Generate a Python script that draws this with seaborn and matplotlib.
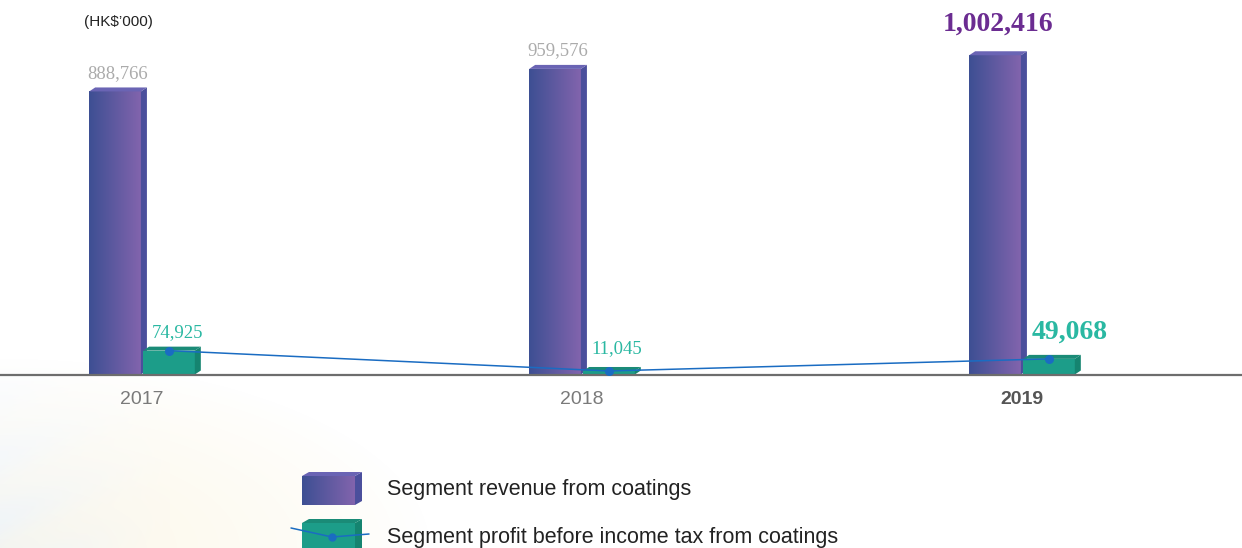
import numpy as np
import pandas as pd
import matplotlib
matplotlib.use("Agg")
import matplotlib.pyplot as plt
import seaborn as sns
from matplotlib.patches import Polygon
from matplotlib.colors import LinearSegmentedColormap, to_rgb

# ---- data ----
years = ["2017", "2018", "2019"]
revenue = [888766, 959576, 1002416]
profit = [74925, 11045, 49068]
revenue_labels = ["888,766", "959,576", "1,002,416"]
profit_labels = ["74,925", "11,045", "49,068"]
series_names = ["Segment revenue from coatings",
                "Segment profit before income tax from coatings"]
unit_label = "(HK$\u2019000)"

# ---- style ----
sns.set_theme(style="white")
plt.rcParams["font.family"] = ["Liberation Sans", "DejaVu Sans"]
SERIF = ["Liberation Serif", "DejaVu Serif"]

PURPLE_L, PURPLE_R = "#3d4f93", "#8264ad"
PURPLE_SIDE, PURPLE_TOP = "#4b4f9c", "#6a64b4"
TEAL, TEAL_SIDE, TEAL_TOP = "#1c9d89", "#158470", "#1a8b77"
LINE_BLUE = "#1a6cc2"
purple_cmap = LinearSegmentedColormap.from_list("rev", [PURPLE_L, PURPLE_R])

W, H, DPI = 1242, 548, 100
BASE_PX = 173.5            # baseline height from the bottom, pixels
PX_X = 440.0               # pixels per category step
VAL_PER_PX = 3140.0        # value units per vertical pixel
X0 = -142.0 / PX_X

fig = plt.figure(figsize=(W / DPI, H / DPI), dpi=DPI)
fig.patch.set_facecolor("white")

# faint warm haze in the lower-left corner
bg = fig.add_axes([0, 0, 1, 1], zorder=-10)
yy, xx = np.mgrid[0:H, 0:W]
r = np.hypot(xx / 430.0, (H - yy) / 190.0)
fade = np.clip(1 - r, 0, 1) ** 0.8
streak = 0.5 + 0.5 * np.sin((xx * 0.35 + yy * 0.9) / 9.0)
cream = np.array(to_rgb("#fbf4de"))
blue = np.array(to_rgb("#e8eff4"))
mixw = np.clip(1 - xx / 170.0, 0, 1)[..., None] * (0.6 + 0.4 * streak[..., None])
col = cream * (1 - mixw) + blue * mixw
alpha = 0.7 * fade
rgba = np.dstack([col, alpha])
bg.imshow(rgba, extent=[0, W, H, 0], aspect="auto", interpolation="bilinear")
bg.set_xlim(0, W)
bg.set_ylim(H, 0)
bg.axis("off")

ax = fig.add_axes([0, BASE_PX / H, 1, 1 - BASE_PX / H])
ax.set_facecolor("none")

df = pd.DataFrame({
    "year": years * 2,
    "series": [series_names[0]] * 3 + [series_names[1]] * 3,
    "value": revenue + profit,
})
sns.barplot(data=df, x="year", y="value", hue="series",
            palette=[PURPLE_L, TEAL], width=0.245, gap=0.04,
            saturation=1, errorbar=None, legend=False, linewidth=0, ax=ax)

ymax = (H - BASE_PX) * VAL_PER_PX
ax.set_xlim(X0, X0 + W / PX_X)
ax.set_ylim(0, ymax)

DX = 6.0 / PX_X
DY = 4.0 * VAL_PER_PX
grad = np.linspace(0, 1, 256)[None, :]

purple_bars, teal_bars = [], []
for p in ax.patches:
    fc = p.get_facecolor()
    if abs(fc[0] - to_rgb(TEAL)[0]) < 0.02 and abs(fc[1] - to_rgb(TEAL)[1]) < 0.02:
        teal_bars.append(p)
    else:
        purple_bars.append(p)
purple_bars.sort(key=lambda p: p.get_x())
teal_bars.sort(key=lambda p: p.get_x())


def extrude(p, side, top, z):
    x0, w, h = p.get_x(), p.get_width(), p.get_height()
    x1 = x0 + w
    ax.add_patch(Polygon([(x1, 0), (x1, h), (x1 + DX, h + DY), (x1 + DX, DY)],
                         closed=True, facecolor=side, edgecolor="none", zorder=z))
    ax.add_patch(Polygon([(x0, h), (x0 + DX, h + DY), (x1 + DX, h + DY), (x1, h)],
                         closed=True, facecolor=top, edgecolor="none", zorder=z))


for p in purple_bars:
    p.set_zorder(2)
    x0, w, h = p.get_x(), p.get_width(), p.get_height()
    im = ax.imshow(grad, extent=[x0, x0 + w, 0, h], aspect="auto",
                   cmap=purple_cmap, zorder=2.05, interpolation="bilinear")
    im.set_clip_path(p)
    extrude(p, PURPLE_SIDE, PURPLE_TOP, 2.1)

for p in teal_bars:
    p.set_zorder(3)
    extrude(p, TEAL_SIDE, TEAL_TOP, 3.1)

ax.set_xlim(X0, X0 + W / PX_X)
ax.set_ylim(0, ymax)

# profit trend line across the teal bars
line_x = [p.get_x() + p.get_width() / 2 for p in teal_bars]
sns.lineplot(x=line_x, y=profit, ax=ax, color=LINE_BLUE, linewidth=1.1,
             marker="o", markersize=6.5, markeredgewidth=0, zorder=5)

# value labels
for i, p in enumerate(purple_bars):
    cx = p.get_x() + p.get_width() / 2 + DX / 2
    big = i == 2
    ax.annotate(revenue_labels[i], (cx, revenue[i]),
                xytext=(0, (31 if big else 18) * 0.72), textcoords="offset points",
                ha="center", va="center", family=SERIF,
                fontsize=20 if big else 13.5,
                fontweight="bold" if big else "normal",
                color="#6b2c91" if big else "#ababab", zorder=6)

for i, p in enumerate(teal_bars):
    big = i == 2
    ax.annotate(profit_labels[i], (p.get_x(), profit[i]),
                xytext=(8.5 * 0.72, (27 if big else (22 if i == 1 else 18)) * 0.72),
                textcoords="offset points", ha="left", va="center", family=SERIF,
                fontsize=20 if big else 13.5,
                fontweight="bold" if big else "normal",
                color="#2ab8a2", zorder=6)

# axis styling
for s in ["top", "right", "left"]:
    ax.spines[s].set_visible(False)
ax.spines["bottom"].set_color("#6d6d6d")
ax.spines["bottom"].set_linewidth(1.6)
ax.spines["bottom"].set_zorder(4)
ax.set_yticks([])
ax.set_xticks(range(len(years)))
ax.set_xticklabels(years)
ax.tick_params(axis="x", length=0, pad=12, labelsize=14)
ax.set_xlabel("")
ax.set_ylabel("")
for i, t in enumerate(ax.get_xticklabels()):
    if i == len(years) - 1:
        t.set_fontweight("bold")
        t.set_color("#555555")
    else:
        t.set_color("#7a7a7a")

fig.text(84 / W, 1 - 22 / H, unit_label, fontsize=11, color="#222222",
         ha="left", va="center")

# legend swatches in pixel space
lg = fig.add_axes([0, 0, 1, 1], zorder=8)
lg.set_xlim(0, W)
lg.set_ylim(H, 0)
lg.axis("off")
lg.patch.set_alpha(0)


def swatch(x0, y0, w, h, front, side, top, gradient=False):
    dx, dy = 7, 4
    if gradient:
        box = plt.Rectangle((x0, y0), w, h, facecolor="none", edgecolor="none")
        lg.add_patch(box)
        im = lg.imshow(grad, extent=[x0, x0 + w, y0 + h, y0], aspect="auto",
                       cmap=purple_cmap, interpolation="bilinear", zorder=2)
        im.set_clip_path(box)
    else:
        lg.add_patch(plt.Rectangle((x0, y0), w, h, facecolor=front,
                                   edgecolor="none", zorder=2))
    lg.add_patch(Polygon([(x0 + w, y0 + h), (x0 + w, y0), (x0 + w + dx, y0 - dy),
                          (x0 + w + dx, y0 + h - dy)], closed=True,
                         facecolor=side, edgecolor="none", zorder=2))
    lg.add_patch(Polygon([(x0, y0), (x0 + dx, y0 - dy), (x0 + w + dx, y0 - dy),
                          (x0 + w, y0)], closed=True, facecolor=top,
                         edgecolor="none", zorder=2))


swatch(302, 476, 53, 29, None, PURPLE_SIDE, PURPLE_TOP, gradient=True)
swatch(302, 523, 53, 30, TEAL, TEAL_SIDE, TEAL_TOP)
lg.plot([291, 332, 369], [528, 537, 534], color=LINE_BLUE, lw=1.1, zorder=3)
lg.plot([332], [537], "o", color=LINE_BLUE, ms=6, mew=0, zorder=3)
lg.set_xlim(0, W)
lg.set_ylim(H, 0)

lg.text(387, 490, series_names[0], fontsize=15.5, color="#222222",
        ha="left", va="center")
lg.text(387, 537, series_names[1], fontsize=15.5, color="#222222",
        ha="left", va="center")

fig.savefig("out.png", dpi=DPI, facecolor="white")
